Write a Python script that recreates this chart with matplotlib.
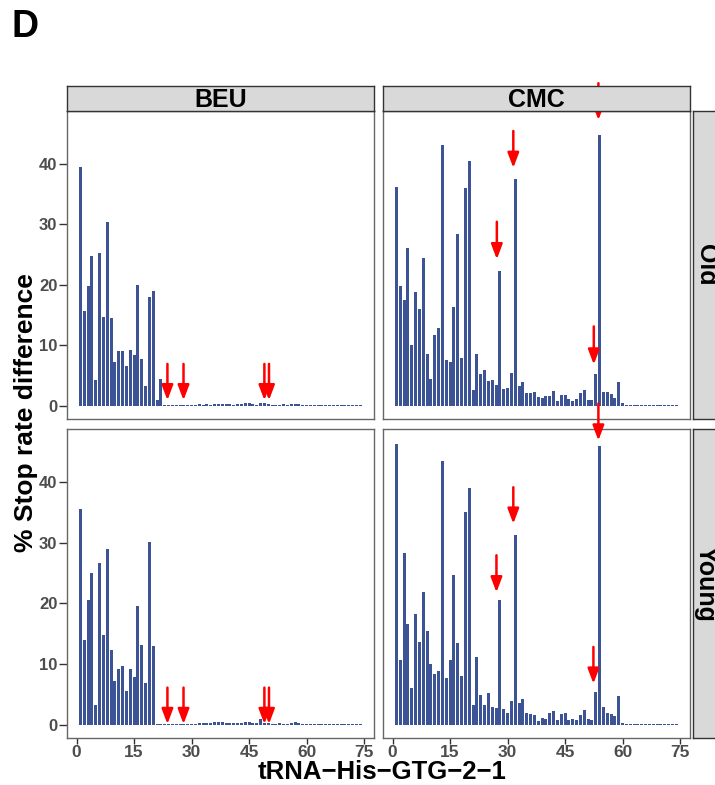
import numpy as np
import matplotlib
matplotlib.use('Agg')
import matplotlib.pyplot as plt

plt.rcParams['font.family'] = ['Liberation Sans', 'DejaVu Sans']

# positions along the tRNA (1..74)
positions = np.arange(1, 75)

# % stop rate difference (positions 1..60, rest ~0)
beu_old = [39.5, 15.7, 19.8, 24.8, 4.2, 25.2, 14.6, 30.3, 14.5, 7.2,
           9.1, 9.0, 6.5, 9.2, 8.4, 19.9, 7.7, 3.2, 17.9, 19.0,
           0.9, 4.4, 0.08, 0.05, 0.05, 0.05, 0.05, 0.05, 0.05, 0.05,
           0.1, 0.2, 0.1, 0.25, 0.1, 0.2, 0.3, 0.25, 0.2, 0.2,
           0.15, 0.25, 0.2, 0.45, 0.5, 0.35, 0.15, 0.5, 0.45, 0.2,
           0.15, 0.15, 0.1, 0.2, 0.15, 0.35, 0.35, 0.3, 0.15, 0.1]
beu_young = [35.6, 13.9, 20.5, 24.9, 3.2, 26.7, 14.7, 29.0, 12.3, 7.2,
             9.1, 9.7, 5.6, 9.1, 7.9, 19.5, 13.1, 6.9, 30.1, 13.0,
             0.05, 0.05, 0.05, 0.05, 0.05, 0.05, 0.05, 0.05, 0.05, 0.05,
             0.1, 0.3, 0.2, 0.3, 0.35, 0.4, 0.4, 0.4, 0.35, 0.3,
             0.3, 0.25, 0.2, 0.4, 0.4, 0.3, 0.2, 0.9, 0.3, 0.2,
             0.15, 0.1, 0.2, 0.15, 0.1, 0.35, 0.4, 0.3, 0.1, 0.05]
cmc_old = [36.1, 19.7, 17.4, 26.1, 10.0, 18.8, 15.9, 24.4, 8.5, 4.4,
           11.7, 12.8, 43.1, 7.5, 7.2, 16.3, 28.3, 7.8, 35.9, 40.5,
           2.6, 8.6, 5.2, 5.9, 4.1, 4.3, 3.4, 22.2, 2.8, 3.0,
           5.4, 37.4, 3.3, 3.9, 2.1, 2.1, 2.2, 1.5, 1.2, 1.6,
           1.6, 2.4, 0.7, 1.8, 1.8, 1.1, 0.8, 1.1, 2.1, 2.6,
           1.0, 0.9, 5.2, 44.7, 2.2, 2.2, 1.9, 1.3, 3.9, 0.5]
cmc_young = [46.3, 10.6, 28.3, 16.5, 6.1, 18.2, 13.6, 21.8, 15.4, 10.0,
             8.4, 8.9, 43.5, 7.7, 10.6, 24.6, 13.4, 8.0, 35.0, 39.0,
             3.3, 11.1, 4.9, 3.2, 5.2, 2.9, 2.7, 20.6, 2.5, 1.9,
             3.9, 31.2, 3.5, 4.3, 2.0, 1.8, 1.6, 0.6, 1.1, 0.9,
             2.0, 2.3, 0.7, 1.7, 1.9, 0.8, 0.9, 0.7, 1.6, 2.4,
             0.9, 0.7, 5.4, 45.9, 2.9, 2.0, 1.7, 1.5, 4.7, 0.3]
tail = [0.05] * 14  # positions 61..74

# red arrows: x, start y, tip y
beu_old_arrows = ([23.7, 27.9, 49.0, 50.2], [6.9] * 4, [0.9] * 4)
beu_young_arrows = ([23.7, 27.9, 49.0, 50.2], [6.1] * 4, [0.1] * 4)
cmc_old_arrows = ([27.2, 31.5, 52.5, 53.7], [30.4, 45.4, 13.1, 53.3], [24.2, 39.3, 6.8, 47.2])
cmc_young_arrows = ([27.1, 31.5, 52.4, 53.7], [27.9, 39.1, 12.8, 52.9], [21.8, 33.1, 6.75, 46.8])

cols = ['BEU', 'CMC']
rows = ['Old', 'Young']
panels = {('Old', 'BEU'): (beu_old, beu_old_arrows),
          ('Old', 'CMC'): (cmc_old, cmc_old_arrows),
          ('Young', 'BEU'): (beu_young, beu_young_arrows),
          ('Young', 'CMC'): (cmc_young, cmc_young_arrows)}

W, H = 715, 785
fig = plt.figure(figsize=(W / 100, H / 100), dpi=100)

def px_axes(x0, y0, x1, y1):
    # pixel box (top-left origin) -> figure axes
    return fig.add_axes([x0 / W, 1 - y1 / H, (x1 - x0) / W, (y1 - y0) / H])

col_x = {'BEU': (67, 374), 'CMC': (383, 690)}
row_y = {'Old': (111, 419), 'Young': (429, 738)}
bar_col = '#3C5495'
tick_col = '#4D4D4D'

for r in rows:
    for c in cols:
        vals, arrows = panels[(r, c)]
        x0, x1 = col_x[c]
        y0, y1 = row_y[r]
        ax = px_axes(x0, y0, x1, y1)
        ax.bar(positions, list(vals) + tail, width=0.8, color=bar_col, linewidth=0)
        ax.set_xlim(-2.5, 77.6)
        ax.set_ylim(-2.2, 48.7)
        ax.set_xticks([0, 15, 30, 45, 60, 75])
        ax.set_yticks([0, 10, 20, 30, 40])
        for s in ax.spines.values():
            s.set_color('#666666')
            s.set_linewidth(1.0)
        ax.tick_params(axis='y', length=5.5, pad=1.5, labelsize=12)
        ax.tick_params(axis='x', length=4, pad=1, labelsize=12.5)
        ax.tick_params(width=1.0, color='#333333', labelcolor=tick_col)
        for lab in ax.get_xticklabels() + ax.get_yticklabels():
            lab.set_fontweight('bold')
        if c != 'BEU':
            ax.tick_params(axis='y', left=False, labelleft=False)
        if r != 'Young':
            ax.tick_params(axis='x', bottom=False, labelbottom=False)
        ax_x, ax_s, ax_t = arrows
        for xa, ys, yt in zip(ax_x, ax_s, ax_t):
            ann = ax.annotate('', xy=(xa, yt), xytext=(xa, ys),
                              annotation_clip=False,
                              arrowprops=dict(arrowstyle='-|>,head_length=0.45,head_width=0.17',
                                              color='#FF0000', lw=1.8,
                                              mutation_scale=20,
                                              shrinkA=0, shrinkB=0))
            ann.arrow_patch.set_clip_on(False)
            ann.arrow_patch.set_zorder(5)

# column strips
for c in cols:
    x0, x1 = col_x[c]
    sa = px_axes(x0, 86, x1, 111)
    sa.set_facecolor('#D9D9D9')
    sa.set_xticks([])
    sa.set_yticks([])
    for s in sa.spines.values():
        s.set_color('#333333')
        s.set_linewidth(1.0)
    sa.text(0.5, 0.45, c, ha='center', va='center', fontsize=18,
            fontweight='bold', transform=sa.transAxes)

# row strips (cut at the right edge of the figure)
for r in rows:
    y0, y1 = row_y[r]
    sa = px_axes(693, y0, 718, y1)
    sa.set_facecolor('#D9D9D9')
    sa.set_xticks([])
    sa.set_yticks([])
    for s in sa.spines.values():
        s.set_color('#333333')
        s.set_linewidth(1.0)
    sa.text(0.5, 0.5, r, ha='center', va='center', fontsize=18,
            fontweight='bold', rotation=-90, transform=sa.transAxes)

fig.text(11 / W, 1 - 27 / H, 'D', fontsize=27, fontweight='bold', va='center', ha='left')
fig.text(26 / W, 1 - 413 / H, '% Stop rate difference', fontsize=19, fontweight='bold',
         rotation=90, ha='center', va='center')
fig.text(382 / W, 1 - 779 / H, 'tRNA\u2212His\u2212GTG\u22122\u22121', fontsize=18.5,
         fontweight='bold', ha='center', va='baseline')

fig.savefig('out.png', dpi=100)
